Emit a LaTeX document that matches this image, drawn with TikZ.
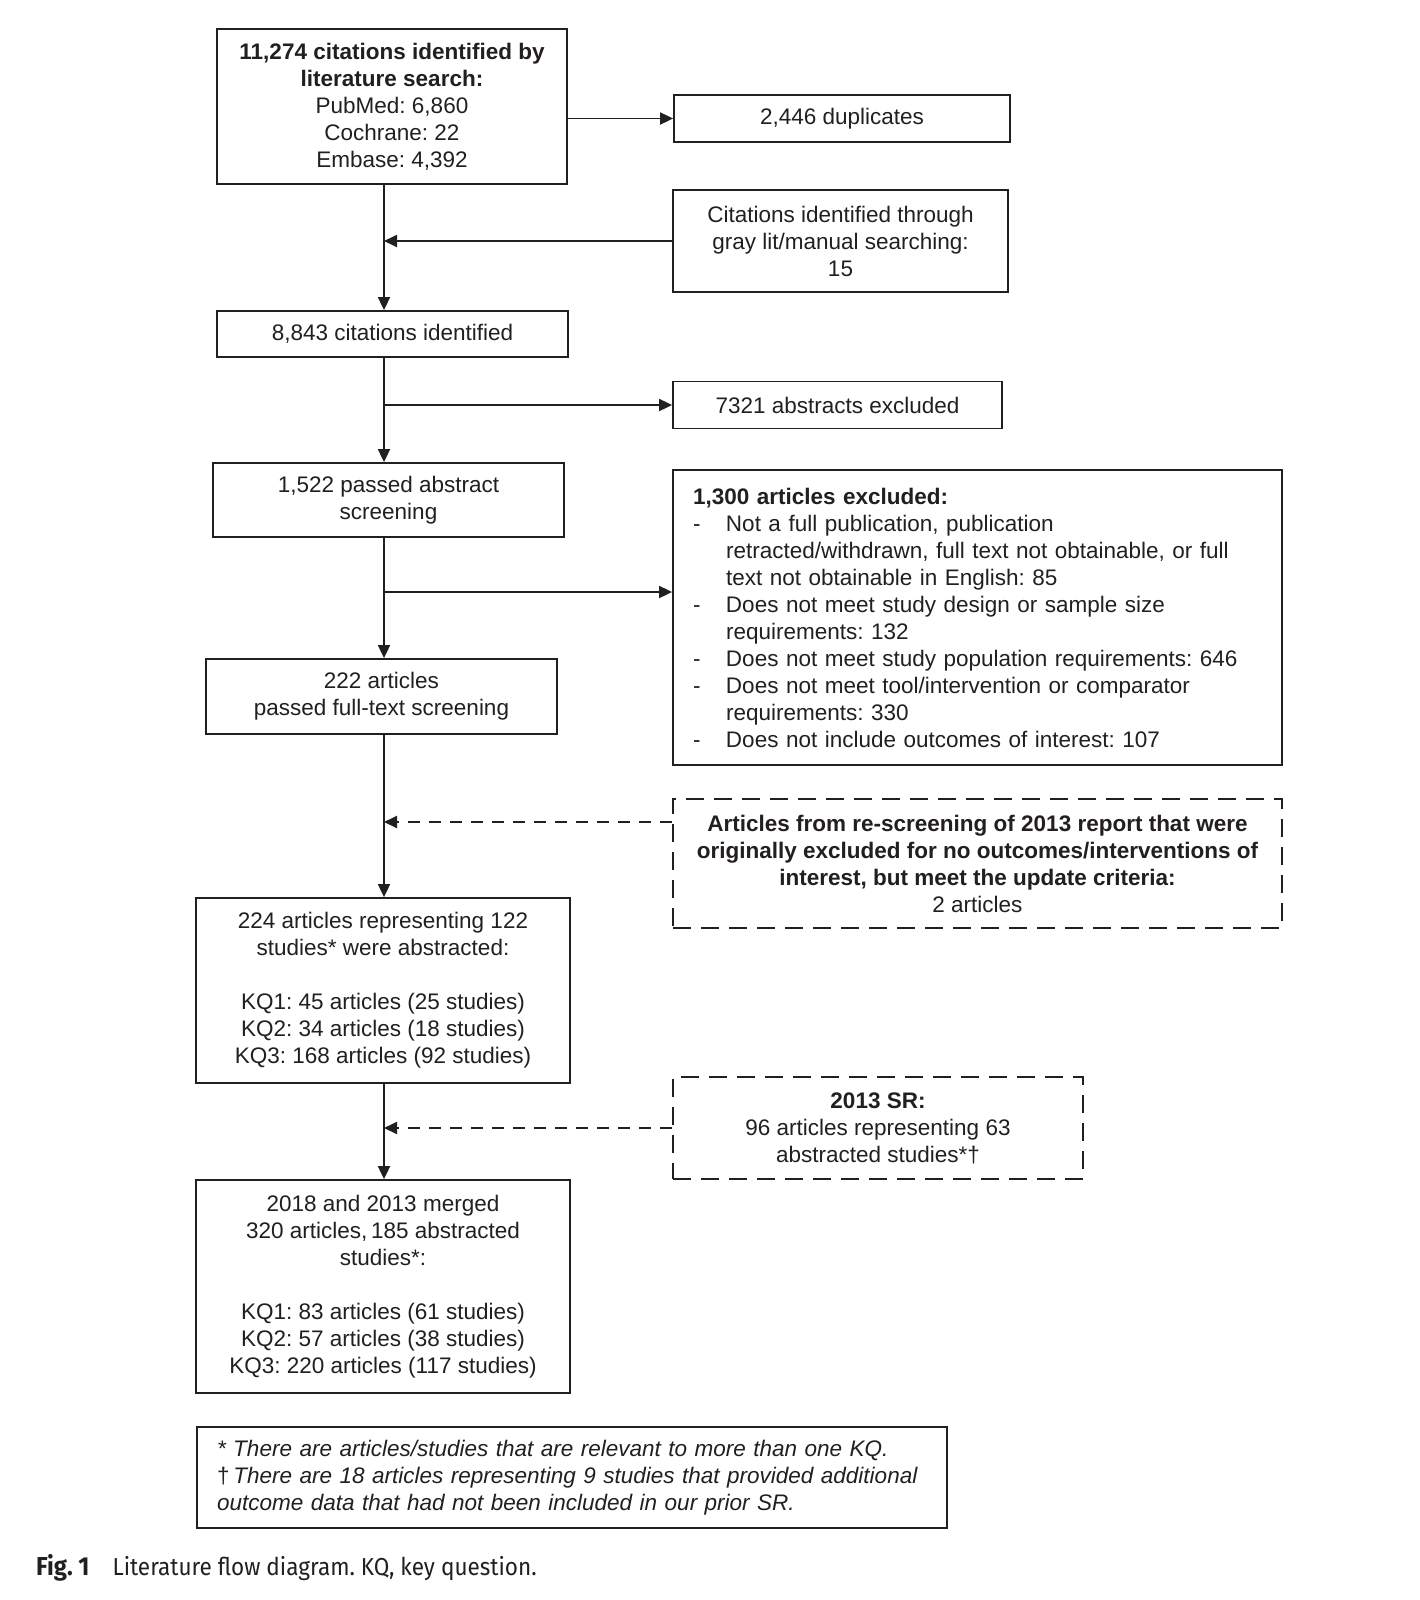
\documentclass[tikz,border=0pt]{standalone}
\usepackage{fontspec}
\setmainfont{Liberation Sans}
\newfontfamily\capfont[FakeStretch=0.92]{Fira Sans}
\usetikzlibrary{arrows.meta}
\definecolor{ink}{HTML}{231F20}
\frenchspacing
\newcommand{\bodyfont}{\fontsize{22.5}{27}\selectfont\frenchspacing}
\newlength{\dashw}\setlength{\dashw}{33pt}
\newcommand{\itm}{\makebox[\dashw][l]{-}}
\newcommand{\cont}{\hspace*{\dashw}}
\begin{document}
\begin{tikzpicture}[x=1pt,y=-1pt,
  every node/.style={font=\bodyfont, text=ink},
  box/.style={draw=ink, line width=1.8pt, rectangle, inner sep=0pt, align=center},
  dbox/.style={box, dash pattern=on 18pt off 10pt, line width=2.5pt},
  arr/.style={draw=ink, line width=1.8pt, -{Triangle[length=13pt,width=12pt]}},
  darr/.style={arr, dash pattern=on 12pt off 9pt, line width=2pt}]
\useasboundingbox[fill=white] (0,0) rectangle (1419,1600);
\coordinate (mx) at (384,0);
% boxes
\node[box, minimum width=350pt, minimum height=155pt] (b1) at (392,106.5)
  {\textbf{11,274 citations identified by}\\\textbf{literature search:}\\PubMed: 6,860\\Cochrane: 22\\Embase: 4,392};
\node[box, minimum width=336pt, minimum height=47pt] (dup) at (842,118.5) {2,446 duplicates};
\node[box, minimum width=335pt, minimum height=102pt] (gray) at (840.5,241)
  {Citations identified through\\gray lit/manual searching:\\15};
\node[box, minimum width=351pt, minimum height=46pt] (c8843) at (392.5,334) {8,843 citations identified};
\node[box, minimum width=329pt, minimum height=47pt] (ex7321) at (837.5,405) {7321 abstracts excluded};
\node[box, minimum width=351pt, minimum height=74pt] (p1522) at (388.5,500) {1,522 passed abstract\\screening};
\node[box, minimum width=609pt, minimum height=295pt, text width=569pt, align=left] (ex1300) at (977.5,617.5)
  {\textbf{1,300 articles excluded:}\\
   \itm Not a full publication, publication\\
   \cont retracted/withdrawn, full text not obtainable, or full\\
   \cont text not obtainable in English: 85\\
   \itm Does not meet study design or sample size\\
   \cont requirements: 132\\
   \itm Does not meet study population requirements: 646\\
   \itm Does not meet tool/intervention or comparator\\
   \cont requirements: 330\\
   \itm Does not include outcomes of interest: 107};
\node[box, minimum width=351pt, minimum height=75pt] (p222) at (381.5,696.5) {222 articles\\passed full-text screening};
\node[dbox, minimum width=609pt, minimum height=129pt] (resc) at (977.5,863.5)
  {\textbf{Articles from re-screening of 2013 report that were}\\\textbf{originally excluded for no outcomes/interventions of}\\\textbf{interest, but meet the update criteria:}\\2 articles};
\node[box, minimum width=374pt, minimum height=185pt] (a224) at (383,990.5)
  {224 articles representing 122\\studies* were abstracted:\\\mbox{}\\KQ1: 45 articles (25 studies)\\KQ2: 34 articles (18 studies)\\KQ3: 168 articles (92 studies)};
\node[dbox, minimum width=410pt, minimum height=102pt] (sr) at (878,1128)
  {\textbf{2013 SR:}\\96 articles representing 63\\abstracted studies*†};
\node[box, minimum width=374pt, minimum height=213pt] (mer) at (383,1286.5)
  {2018 and 2013 merged\\320 articles,\,185 abstracted\\studies*:\\\mbox{}\\KQ1: 83 articles (61 studies)\\KQ2: 57 articles (38 studies)\\KQ3: 220 articles (117 studies)};
\node[box, minimum width=750pt, minimum height=101pt, text width=710pt, align=left] (foot) at (572,1477.5)
  {\itshape * There are articles/studies that are relevant to more than one KQ.\\
   {\upshape †}\,There are 18 articles representing 9 studies that provided additional\\
   outcome data that had not been included in our prior SR.};
\node[anchor=base west, inner sep=0pt, font=\capfont\fontsize{24.5}{28}\selectfont\frenchspacing] (cap) at (36,1575)
  {{\fontsize{26}{28}\selectfont\textbf{Fig. 1}}\hspace{23pt}Literature flow diagram. KQ, key question.};
% connectors
\draw[arr] (b1.south -| mx) -- (c8843.north -| mx);
\draw[arr] (b1.east |- dup.west) -- (dup.west);
\draw[arr] (gray.west) -- (gray.west -| mx);
\draw[arr] (c8843.south -| mx) -- (p1522.north -| mx);
\draw[arr] (ex7321.west -| mx) -- (ex7321.west);
\coordinate (j1300) at (384,592);
\draw[arr] (p1522.south -| mx) -- (p222.north -| mx);
\draw[arr] (j1300) -- (j1300 -| ex1300.west);
\draw[arr] (p222.south -| mx) -- (a224.north -| mx);
\coordinate (jr) at (384,822);
\draw[darr] (jr -| resc.west) -- (jr);
\draw[arr] (a224.south -| mx) -- (mer.north -| mx);
\draw[darr] (sr.west) -- (sr.west -| mx);
\end{tikzpicture}
\end{document}
